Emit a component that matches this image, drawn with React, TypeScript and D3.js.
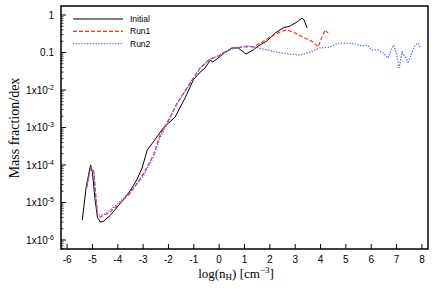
import React from 'react';
import * as d3 from 'd3';

// log(nH) positions and mass fraction per dex
const initialX = [-5.4, -5.25, -5.12, -5.07, -5.0, -4.9, -4.8, -4.69, -4.55, -4.3, -4.02, -3.75, -3.5, -3.25, -3.04, -2.84, -2.6, -2.2, -1.74, -1.34, -1.02, -0.75, -0.55, -0.35, -0.25, -0.04, 0.24, 0.5, 0.75, 1.06, 1.34, 1.54, 1.89, 2.21, 2.52, 2.8, 3.07, 3.27, 3.35, 3.47];
const initialY = [3.4e-6, 2.5e-5, 7.1e-5, 1.0e-4, 6.3e-5, 1.26e-5, 4.0e-6, 3.0e-6, 3.2e-6, 4.5e-6, 7.6e-6, 1.26e-5, 2.1e-5, 4.0e-5, 8.3e-5, 2.5e-4, 4.1e-4, 9.8e-4, 1.9e-3, 6.2e-3, 1.86e-2, 3.0e-2, 3.9e-2, 6.3e-2, 5.6e-2, 7.1e-2, 0.102, 0.132, 0.132, 0.091, 0.117, 0.148, 0.204, 0.33, 0.45, 0.51, 0.65, 0.83, 0.74, 0.45];

const run1X = [-5.22, -5.12, -5.07, -5.0, -4.94, -4.87, -4.8, -4.69, -4.5, -4.3, -3.9, -3.5, -3.0, -2.6, -2.33, -1.93, -1.66, -1.14, -0.75, -0.35, -0.08, 0.17, 0.55, 1.03, 1.34, 1.7, 2.01, 2.41, 2.68, 3.0, 3.31, 3.71, 3.9, 4.06, 4.18, 4.3];
const run1Y = [2.6e-5, 6.3e-5, 8.9e-5, 7.9e-5, 6.5e-5, 1.6e-5, 4.7e-6, 4.1e-6, 4.7e-6, 5.6e-6, 9.8e-6, 1.8e-5, 5.6e-5, 1.8e-4, 6.3e-4, 1.9e-3, 4.5e-3, 1.55e-2, 3.9e-2, 6.8e-2, 7.6e-2, 9.8e-2, 0.132, 0.141, 0.141, 0.19, 0.257, 0.355, 0.4, 0.33, 0.257, 0.19, 0.141, 0.257, 0.4, 0.33];

const run2X = [-5.22, -5.12, -5.07, -5.0, -4.94, -4.87, -4.8, -4.69, -4.5, -4.3, -3.9, -3.5, -3.0, -2.6, -2.33, -1.93, -1.66, -1.14, -0.75, -0.35, -0.08, 0.17, 0.55, 1.1, 1.54, 1.89, 2.29, 2.8, 3.19, 3.59, 3.98, 4.38, 4.69, 5.05, 5.36, 5.64, 5.84, 6.03, 6.27, 6.47, 6.66, 6.82, 6.9, 7.02, 7.1, 7.22, 7.34, 7.45, 7.61, 7.73, 7.85, 7.96];
const run2Y = [2.5e-5, 5.6e-5, 7.9e-5, 7.6e-5, 6.0e-5, 1.4e-5, 5.0e-6, 4.5e-6, 5.0e-6, 6.3e-6, 1.07e-5, 1.9e-5, 5.0e-5, 1.6e-4, 5.4e-4, 1.8e-3, 4.3e-3, 1.5e-2, 3.8e-2, 6.8e-2, 7.9e-2, 0.1, 0.126, 0.151, 0.132, 0.117, 0.102, 0.091, 0.085, 0.102, 0.132, 0.141, 0.178, 0.178, 0.17, 0.148, 0.158, 0.117, 0.117, 0.098, 0.071, 0.132, 0.158, 0.076, 0.039, 0.102, 0.076, 0.056, 0.098, 0.158, 0.178, 0.132];

const xTicks = [-6, -5, -4, -3, -2, -1, 0, 1, 2, 3, 4, 5, 6, 7, 8];
const yTicks = [1, 0.1, 1e-2, 1e-3, 1e-4, 1e-5, 1e-6];
const yTickLabels = [['1', ''], ['0.1', ''], ['1x10', '-2'], ['1x10', '-3'], ['1x10', '-4'], ['1x10', '-5'], ['1x10', '-6']];

const seriesNames = ['Initial', 'Run1', 'Run2'];

const W = 436, H = 299;
const left = 61, right = 428, top = 6, bottom = 249;

export default function App() {
  const x = d3.scaleLinear().domain([-6.24, 8.24]).range([left, right]);
  const y = d3.scaleLog().domain([Math.pow(10, -6.24), Math.pow(10, 0.24)]).range([bottom, top]);

  // minor ticks: 2..9 within each decade, inside the visible domain
  const [y0, y1] = y.domain();
  const minorTicks = y.ticks(70).filter(t => {
    const m = t / Math.pow(10, Math.floor(Math.log10(t) + 1e-9));
    return Math.abs(m - 1) > 1e-6 && t >= y0 && t <= y1;
  });

  const line = d3.line<[number, number]>()
    .x(d => x(d[0]))
    .y(d => y(d[1]));

  const series = [
    { pts: d3.zip(initialX, initialY) as [number, number][], color: '#000', dash: '', width: 1 },
    { pts: d3.zip(run1X, run1Y) as [number, number][], color: '#e8352b', dash: '4,2', width: 1.2 },
    { pts: d3.zip(run2X, run2Y) as [number, number][], color: '#4d6ef5', dash: '1.3,1.5', width: 1.3 },
  ];

  const sans = 'Liberation Sans, Arial, sans-serif';
  const serif = 'Liberation Serif, Times New Roman, serif';

  return (
    <svg width={W} height={H} style={{ position: 'absolute', left: 0, top: 0 }}>
      <rect width={W} height={H} fill="#fff" />
      <defs>
        <clipPath id="plot">
          <rect x={left} y={top} width={right - left} height={bottom - top} />
        </clipPath>
      </defs>

      <g clipPath="url(#plot)">
        {series.map((s, i) => (
          <path key={i} d={line(s.pts) || ''} fill="none" stroke={s.color}
            strokeWidth={s.width} strokeDasharray={s.dash} />
        ))}
      </g>

      {/* frame */}
      <rect x={left} y={top} width={right - left} height={bottom - top} fill="none" stroke="#000" strokeWidth={1.5} />

      {/* y axis */}
      {minorTicks.map((t, i) => (
        <line key={'m' + i} x1={left} x2={left + 2.5} y1={y(t)} y2={y(t)} stroke="#000" strokeWidth={0.8} />
      ))}
      {yTicks.map((t, i) => (
        <g key={i}>
          <line x1={left} x2={left + 5} y1={y(t)} y2={y(t)} stroke="#000" strokeWidth={1} />
          <text x={left - 7} y={y(t) + 3.5} textAnchor="end" fontFamily={sans} fontSize={10}>
            {yTickLabels[i][0]}
            {yTickLabels[i][1] ? <tspan dy={-4} fontSize={7}>{yTickLabels[i][1]}</tspan> : null}
          </text>
        </g>
      ))}

      {/* x axis */}
      {xTicks.map(t => (
        <g key={t}>
          <line x1={x(t)} x2={x(t)} y1={bottom} y2={bottom - 5} stroke="#000" strokeWidth={1} />
          <text x={x(t)} y={263} textAnchor="middle" fontFamily={sans} fontSize={10}>{t}</text>
        </g>
      ))}

      {/* axis titles */}
      <text transform="translate(19,128) rotate(-90)" textAnchor="middle" fontFamily={serif} fontSize={14}>
        Mass fraction/dex
      </text>
      <text x={236} y={278} textAnchor="middle" fontFamily={serif} fontSize={13}>
        log(n<tspan dy={2} fontSize={9}>H</tspan><tspan dy={-2}>) [cm</tspan><tspan dy={-5} fontSize={9}>−3</tspan><tspan dy={5}>]</tspan>
      </text>

      {/* legend */}
      {series.map((s, i) => (
        <g key={i}>
          <line x1={73} x2={123} y1={19 + i * 12.3} y2={19 + i * 12.3} stroke={s.color}
            strokeWidth={s.width} strokeDasharray={s.dash} />
          <text x={130} y={22 + i * 12.3} fontFamily={sans} fontSize={8.5}>{seriesNames[i]}</text>
        </g>
      ))}
    </svg>
  );
}
